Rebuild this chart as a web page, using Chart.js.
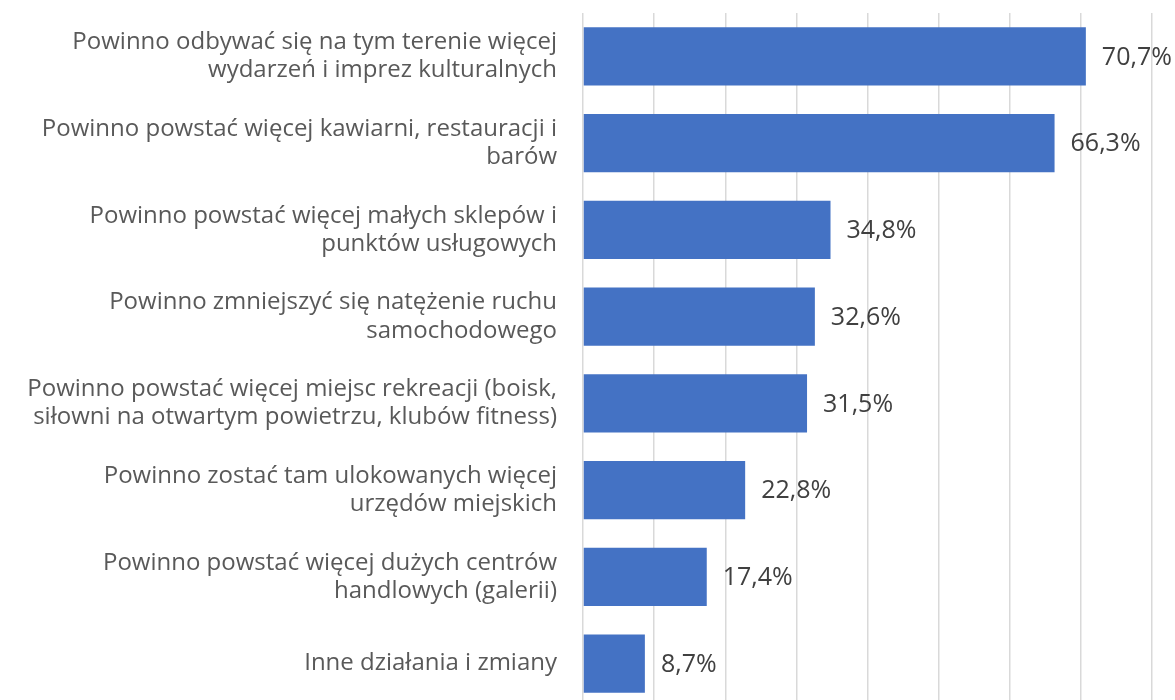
<html>
<head>
    <meta charset="utf-8">
    <title>Zmiany na terenie</title>
    <script src="https://cdn.jsdelivr.net/npm/chart.js"></script>
    <style>
        html, body { margin: 0; padding: 0; background: #fff; overflow: hidden; }
        canvas { display: block; }
    </style>
</head>
<body>
    <canvas id="chart" width="1175" height="707"></canvas>
<script>
    // dane z wykresu
    const categories = [
        ['Powinno odbywać się na tym terenie więcej', 'wydarzeń i imprez kulturalnych'],
        ['Powinno powstać więcej kawiarni, restauracji i', 'barów'],
        ['Powinno powstać więcej małych sklepów i', 'punktów usługowych'],
        ['Powinno zmniejszyć się natężenie ruchu', 'samochodowego'],
        ['Powinno powstać więcej miejsc rekreacji (boisk,', 'siłowni na otwartym powietrzu, klubów fitness)'],
        ['Powinno zostać tam ulokowanych więcej', 'urzędów miejskich'],
        ['Powinno powstać więcej dużych centrów', 'handlowych (galerii)'],
        ['Inne działania i zmiany']
    ];
    const values = [70.7, 66.3, 34.8, 32.6, 31.5, 22.8, 17.4, 8.7];
    const xMax = 80;
    const xStep = 10;

    const fontFamily = '"Open Sans", Lato, sans-serif';

    // etykiety wartości obok słupków
    const valueLabels = {
        id: 'valueLabels',
        afterDatasetsDraw(chart) {
            const ctx = chart.ctx;
            const meta = chart.getDatasetMeta(0);
            ctx.save();
            ctx.font = '25px ' + fontFamily;
            ctx.fillStyle = '#404040';
            ctx.textAlign = 'left';
            ctx.textBaseline = 'middle';
            meta.data.forEach((bar, i) => {
                const txt = values[i].toFixed(1).replace('.', ',') + '%';
                ctx.fillText(txt, bar.x + 16, bar.y + 1);
            });
            ctx.restore();
        }
    };

    new Chart(document.getElementById('chart'), {
        type: 'bar',
        data: {
            labels: categories,
            datasets: [{
                data: values,
                backgroundColor: '#4472C4',
                categoryPercentage: 1,
                barPercentage: 0.67
            }]
        },
        options: {
            indexAxis: 'y',
            responsive: false,
            animation: false,
            layout: { padding: { top: 13, right: 23, bottom: 0, left: 0 } },
            plugins: {
                legend: { display: false },
                tooltip: { enabled: false }
            },
            scales: {
                x: {
                    min: 0,
                    max: xMax,
                    ticks: { display: false, stepSize: xStep },
                    grid: { color: '#d9d9d9', lineWidth: 1.5, drawTicks: false },
                    border: { display: false }
                },
                y: {
                    afterFit: (scale) => {
                        scale.width = 583;
                        scale.paddingTop = 0;
                        scale.paddingBottom = 0;
                    },
                    ticks: {
                        color: '#595959',
                        padding: 26,
                        font: { family: fontFamily, size: 24, lineHeight: 1.17 }
                    },
                    grid: { display: false, drawTicks: false },
                    border: { display: false }
                }
            }
        },
        plugins: [valueLabels]
    });
</script>
</body>
</html>
